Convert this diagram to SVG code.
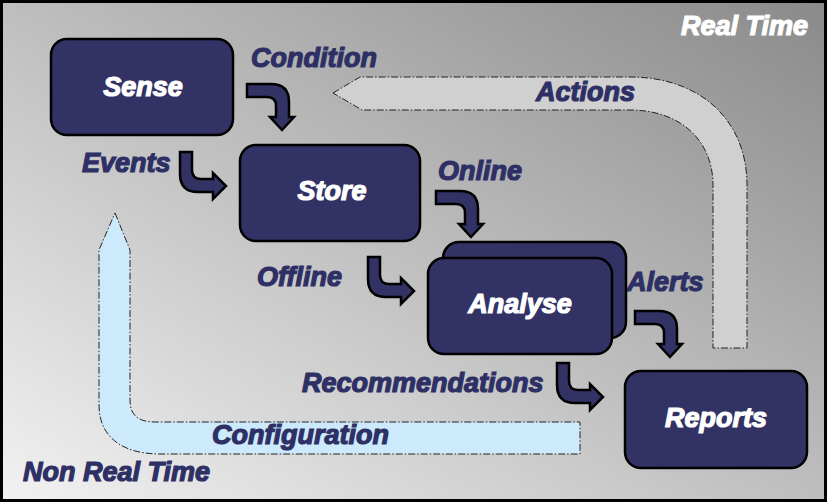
<svg xmlns="http://www.w3.org/2000/svg" width="827" height="502" viewBox="0 0 827 502">
<defs>
<linearGradient id="bg" x1="0" y1="1" x2="1" y2="0">
<stop offset="0" stop-color="#f2f2f2"/>
<stop offset="1" stop-color="#8a8a8a"/>
</linearGradient>
<path id="rd" d="M0,0 H24 Q42,0 42,18 V33 H47 L35,46 L23,33 H29 V22 Q29,13 20,13 H0 Z"/>
<path id="dr" d="M0,0 H12 V18 Q12,27 21,27 H33 V21 L46,34 L33,47 V40 H18 Q0,40 0,22 Z"/>
</defs>
<style>
.box{fill:#323264;stroke:#000;stroke-width:2.5}
.arr{fill:#323264;stroke:#000;stroke-width:2.5;stroke-linejoin:miter}
.big{stroke:#222;stroke-width:1;stroke-dasharray:7 2 1.5 2}
text{font-family:"Liberation Sans",Arial,sans-serif;font-weight:bold;font-style:italic;font-size:27px}
.lbl{fill:#2e3065;stroke:#2e3065;stroke-width:1.2}
.wt{fill:#fff;stroke:#fff;stroke-width:1.2;text-anchor:middle}
</style>
<rect x="1.5" y="1.5" width="824" height="499" fill="url(#bg)" stroke="#000" stroke-width="3"/>
<g id="connectors">
<path id="actions" class="big" fill="#d0d0d0" d="M333,93 L360,77 H630 C700,77 747,120 747,185 V348 H713 V185 C713,140 680,110 630,110 H362 Z"/>
<path id="configuration" class="big" fill="#cdeafc" d="M115,213 L130,250 V400 C130,415 138,422 155,422 H580 V454 H160 C120,454 99,435 99,405 V250 Z"/>
<use href="#rd" class="arr" x="247" y="84"/>
<use href="#rd" class="arr" x="436" y="191"/>
<use href="#rd" class="arr" x="635" y="311"/>
<use href="#dr" class="arr" x="180" y="152"/>
<use href="#dr" class="arr" x="368" y="257"/>
<use href="#dr" class="arr" x="557" y="363"/>
</g>
<g id="labels">
<text class="lbl" x="251" y="67">Condition</text>
<text class="lbl" x="536" y="101">Actions</text>
<text class="lbl" x="82" y="172">Events</text>
<text class="lbl" x="438" y="180">Online</text>
<text class="lbl" x="257" y="286">Offline</text>
<text class="lbl" x="627" y="291">Alerts</text>
<text class="lbl" x="302" y="392">Recommendations</text>
<text class="lbl" x="212" y="444">Configuration</text>
<text class="lbl" x="23" y="481">Non Real Time</text>
<text x="681" y="35" fill="#fff" stroke="#fff" stroke-width="1.2">Real Time</text>
</g>
<g id="sense">
<rect class="box" x="51" y="39" width="182" height="96" rx="16"/>
<text class="wt" x="143" y="96">Sense</text>
</g>
<g id="store">
<rect class="box" x="240" y="145" width="180" height="96" rx="16"/>
<text class="wt" x="332" y="200">Store</text>
</g>
<g id="analyse">
<rect class="box" x="443" y="242" width="183" height="96" rx="16"/>
<rect class="box" x="428" y="258" width="184" height="96" rx="16"/>
<text class="wt" x="520" y="313">Analyse</text>
</g>
<g id="reports">
<rect class="box" x="625" y="371" width="182" height="97" rx="16"/>
<text class="wt" x="716" y="427">Reports</text>
</g>
</svg>
